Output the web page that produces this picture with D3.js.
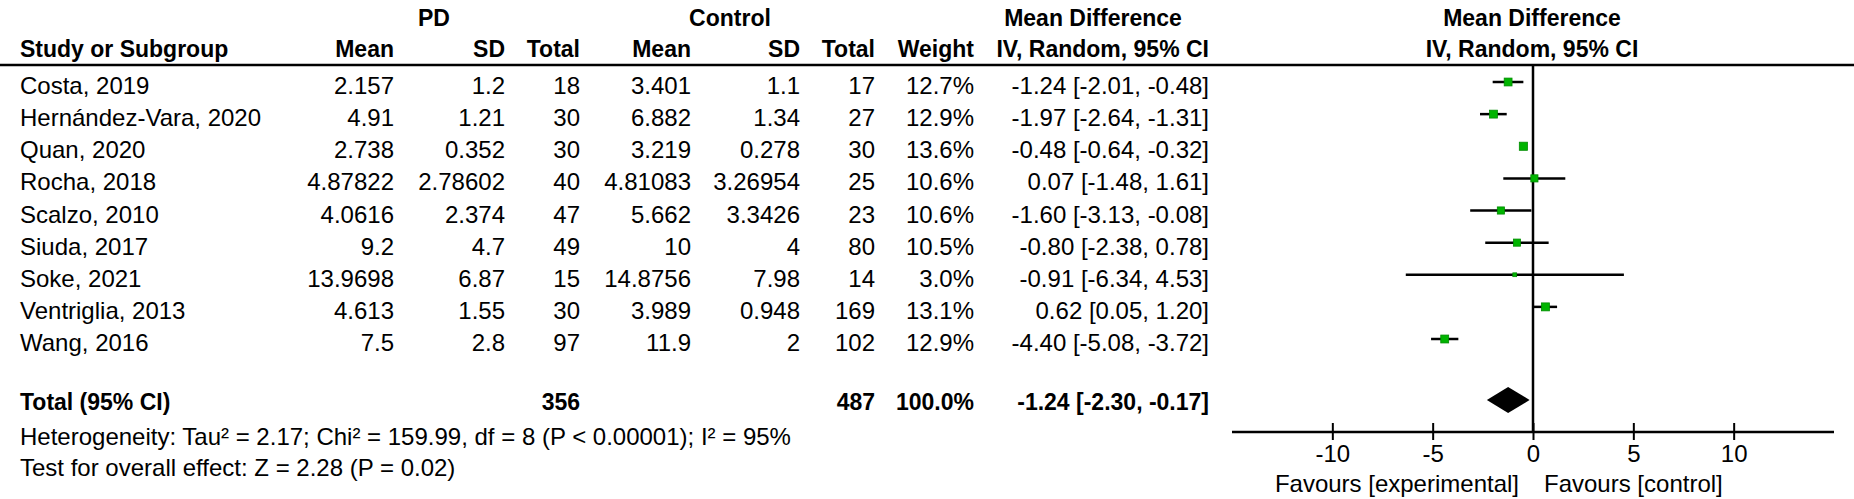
<!DOCTYPE html>
<html>
<head>
<meta charset="utf-8">
<script src="https://cdn.jsdelivr.net/npm/d3@7"></script>
<style>
  html, body { margin: 0; padding: 0; background: #fff; }
  svg { display: block; }
  text { font-family: "Liberation Sans", Arial, sans-serif; fill: #000; }
  .b { font-weight: bold; font-size: 23px; }
  .r { font-size: 24px; }
</style>
</head>
<body>
<svg id="chart" width="1854" height="499"></svg>
<script>
// ---------- data ----------
const studies  = ["Costa, 2019", "Hernández-Vara, 2020", "Quan, 2020", "Rocha, 2018", "Scalzo, 2010",
                  "Siuda, 2017", "Soke, 2021", "Ventriglia, 2013", "Wang, 2016"];
const pdMean   = [2.157, 4.91, 2.738, 4.87822, 4.0616, 9.2, 13.9698, 4.613, 7.5];
const pdSD     = [1.2, 1.21, 0.352, 2.78602, 2.374, 4.7, 6.87, 1.55, 2.8];
const pdN      = [18, 30, 30, 40, 47, 49, 15, 30, 97];
const ctlMean  = [3.401, 6.882, 3.219, 4.81083, 5.662, 10, 14.8756, 3.989, 11.9];
const ctlSD    = [1.1, 1.34, 0.278, 3.26954, 3.3426, 4, 7.98, 0.948, 2];
const ctlN     = [17, 27, 30, 25, 23, 80, 14, 169, 102];
const weights  = [12.7, 12.9, 13.6, 10.6, 10.6, 10.5, 3.0, 13.1, 12.9];
const md       = [-1.24, -1.97, -0.48, 0.07, -1.60, -0.80, -0.91, 0.62, -4.40];
const ciLow    = [-2.01, -2.64, -0.64, -1.48, -3.13, -2.38, -6.34, 0.05, -5.08];
const ciHigh   = [-0.48, -1.31, -0.32, 1.61, -0.08, 0.78, 4.53, 1.20, -3.72];
const totalPdN = 356, totalCtlN = 487, totalWeight = 100.0;
const totalMd = -1.24, totalLow = -2.30, totalHigh = -0.17;
const axisTicks = [-10, -5, 0, 5, 10];
const heterogeneityText = "Heterogeneity: Tau² = 2.17; Chi² = 159.99, df = 8 (P < 0.00001); I² = 95%";
const overallText = "Test for overall effect: Z = 2.28 (P = 0.02)";
const favLeft = "Favours [experimental]", favRight = "Favours [control]";

// ---------- layout ----------
const svg = d3.select("#chart");
svg.append("rect").attr("width", 1854).attr("height", 499).attr("fill", "#fff");

const x = d3.scaleLinear().domain([-15, 15]).range([1232, 1834]);
const rowY = d3.scaleLinear().domain([0, studies.length - 1]).range([85, 342]); // text centre
const loc = d3.formatLocale({decimal: ".", thousands: ",", grouping: [3], currency: ["", ""], minus: "-"});
const fmt2 = loc.format(".2f");
const fmt1 = loc.format(".1f");
const ciStr = (m, l, h) => `${fmt2(m)} [${fmt2(l)}, ${fmt2(h)}]`;

function txt(g, s, xx, yy, anchor, cls) {
  return g.append("text").attr("x", xx).attr("y", yy).attr("text-anchor", anchor).attr("class", cls).text(s);
}

// headers
const H = svg.append("g");
txt(H, "PD", 434, 26, "middle", "b");
txt(H, "Control", 730, 26, "middle", "b");
txt(H, "Mean Difference", 1093, 26, "middle", "b");
txt(H, "Mean Difference", 1532, 26, "middle", "b");
txt(H, "Study or Subgroup", 20, 57, "start", "b");
txt(H, "Mean", 394, 57, "end", "b");
txt(H, "SD", 505, 57, "end", "b");
txt(H, "Total", 580, 57, "end", "b");
txt(H, "Mean", 691, 57, "end", "b");
txt(H, "SD", 800, 57, "end", "b");
txt(H, "Total", 875, 57, "end", "b");
txt(H, "Weight", 974, 57, "end", "b");
txt(H, "IV, Random, 95% CI", 1209, 57, "end", "b");
txt(H, "IV, Random, 95% CI", 1532, 57, "middle", "b");

svg.append("line").attr("x1", 0).attr("x2", 1854).attr("y1", 65).attr("y2", 65)
  .attr("stroke", "#000").attr("stroke-width", 2.5);

// study rows
const rows = svg.append("g").selectAll("g").data(studies).join("g")
  .attr("transform", (d, i) => `translate(0,${rowY(i) + 9})`);
rows.append("text").attr("class", "r").attr("x", 20).text(d => d);
rows.append("text").attr("class", "r").attr("x", 394).attr("text-anchor", "end").text((d, i) => String(pdMean[i]));
rows.append("text").attr("class", "r").attr("x", 505).attr("text-anchor", "end").text((d, i) => String(pdSD[i]));
rows.append("text").attr("class", "r").attr("x", 580).attr("text-anchor", "end").text((d, i) => String(pdN[i]));
rows.append("text").attr("class", "r").attr("x", 691).attr("text-anchor", "end").text((d, i) => String(ctlMean[i]));
rows.append("text").attr("class", "r").attr("x", 800).attr("text-anchor", "end").text((d, i) => String(ctlSD[i]));
rows.append("text").attr("class", "r").attr("x", 875).attr("text-anchor", "end").text((d, i) => String(ctlN[i]));
rows.append("text").attr("class", "r").attr("x", 974).attr("text-anchor", "end").text((d, i) => fmt1(weights[i]) + "%");
rows.append("text").attr("class", "r").attr("x", 1209).attr("text-anchor", "end").text((d, i) => ciStr(md[i], ciLow[i], ciHigh[i]));

// total row
const T = svg.append("g");
txt(T, "Total (95% CI)", 20, 410, "start", "b");
txt(T, String(totalPdN), 580, 410, "end", "b");
txt(T, String(totalCtlN), 875, 410, "end", "b");
txt(T, fmt1(totalWeight) + "%", 974, 410, "end", "b");
txt(T, ciStr(totalMd, totalLow, totalHigh), 1209, 410, "end", "b");
txt(T, heterogeneityText, 20, 445, "start", "r");
txt(T, overallText, 20, 476, "start", "r");

// plot
const P = svg.append("g");
const axisY = 432;
// zero line
P.append("line").attr("x1", x(0)).attr("x2", x(0)).attr("y1", 65).attr("y2", axisY)
  .attr("stroke", "#000").attr("stroke-width", 2.5);

// CI lines and weight squares
const marks = P.append("g").selectAll("g").data(studies).join("g")
  .attr("transform", (d, i) => `translate(0,${rowY(i) - 3})`);
marks.append("line")
  .attr("x1", (d, i) => x(ciLow[i])).attr("x2", (d, i) => x(ciHigh[i]))
  .attr("stroke", "#000").attr("stroke-width", 2.5);
const side = w => 2.2 * Math.sqrt(w);
marks.append("rect")
  .attr("x", (d, i) => x(md[i]) - side(weights[i]) / 2)
  .attr("y", (d, i) => -side(weights[i]) / 2)
  .attr("width", (d, i) => side(weights[i]))
  .attr("height", (d, i) => side(weights[i]))
  .attr("fill", "#00b400").attr("stroke", "#008c00").attr("stroke-width", 0.8);

// diamond
const dy = 400, dh = 13;
P.append("path")
  .attr("d", `M${x(totalLow)},${dy} L${x(totalMd)},${dy - dh} L${x(totalHigh)},${dy} L${x(totalMd)},${dy + dh} Z`)
  .attr("fill", "#000");

// axis
const axis = d3.axisBottom(x).tickValues(axisTicks).tickSize(0).tickPadding(0).tickFormat(loc.format("d"));
const ax = P.append("g").attr("transform", `translate(0,${axisY})`).call(axis);
ax.select(".domain").attr("stroke", "#000").attr("stroke-width", 2.5)
  .attr("d", `M${x.range()[0]},0H${x.range()[1]}`);
ax.selectAll(".tick line").attr("y1", -9).attr("y2", 8).attr("stroke", "#000").attr("stroke-width", 2);
ax.selectAll(".tick text").attr("y", 30).attr("dy", null)
  .attr("font-family", "Liberation Sans, Arial, sans-serif").attr("font-size", 24).attr("fill", "#000");

txt(P, favLeft, x(0) - 14, 492, "end", "r");
txt(P, favRight, x(0) + 11, 492, "start", "r");
</script>
</body>
</html>
